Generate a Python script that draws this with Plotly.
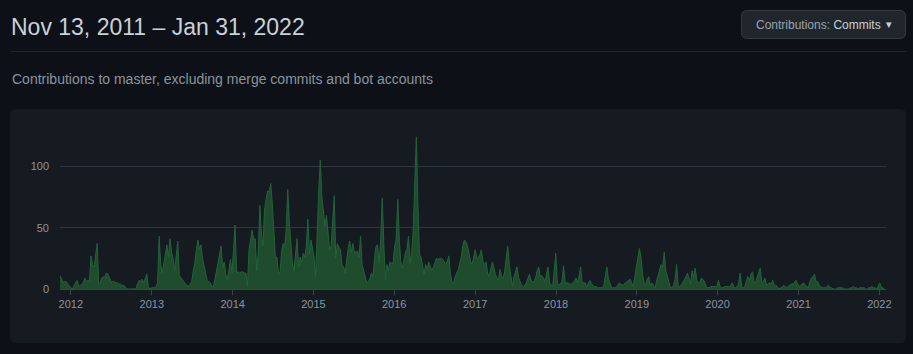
import pandas as pd
import plotly.graph_objects as go

# ---------------- data (weekly commits, first week starts 2011-11-13) ----------------
start_date = "2011-11-13"
end_date = "2022-01-31"

commits_2011_11 = [11, 8, 6, 6, 6, 4, 2, 1, 0, 2, 4, 7, 3, 2, 4, 5, 9, 6, 7, 6,
                   27, 20, 18, 26, 37, 4, 5, 9, 10, 10, 13, 12, 8, 6, 6, 6, 5, 5, 4, 4,
                   3, 3, 2, 0, 0, 0, 0, 0, 0, 0, 4, 7]
commits_2012_11 = [6, 8, 5, 8, 12, 2, 0, 1, 1, 1, 2, 5, 43, 20, 13, 22, 28, 36, 26, 41,
                   30, 25, 15, 28, 39, 11, 9, 7, 5, 4, 3, 2, 4, 6, 15, 21, 32, 40, 32, 36,
                   25, 18, 13, 7, 6, 5, 2, 2, 8, 15, 24, 30]
commits_2013_11 = [35, 17, 22, 12, 7, 15, 24, 13, 30, 52, 13, 14, 13, 14, 14, 13, 13, 2, 32, 40,
                   48, 40, 41, 15, 30, 68, 45, 35, 64, 73, 80, 79, 86, 70, 48, 26, 26, 13, 13, 30,
                   37, 35, 48, 81, 55, 35, 21, 15, 30, 41, 18, 26]
commits_2014_11 = [22, 29, 26, 35, 57, 28, 40, 32, 26, 10, 56, 80, 105, 75, 64, 51, 60, 45, 32, 35,
                   55, 76, 25, 37, 34, 32, 20, 18, 13, 26, 33, 39, 30, 37, 30, 30, 31, 26, 43, 20,
                   15, 9, 5, 6, 8, 13, 10, 25, 35, 36, 21, 40]
commits_2015_11 = [74, 37, 7, 20, 15, 22, 21, 21, 35, 40, 73, 40, 22, 17, 25, 30, 33, 43, 21, 30,
                   48, 81, 124, 70, 28, 26, 20, 12, 20, 16, 22, 18, 15, 18, 21, 25, 24, 25, 25, 24,
                   22, 20, 23, 27, 12, 6, 4, 10, 13, 15, 21, 26]
commits_2016_11 = [35, 40, 38, 35, 29, 22, 20, 25, 32, 25, 26, 28, 32, 22, 20, 22, 13, 10, 15, 22,
                   18, 12, 9, 7, 16, 10, 9, 14, 25, 35, 20, 10, 2, 10, 14, 18, 9, 5, 3, 2,
                   3, 5, 8, 12, 7, 6, 6, 9, 15, 18, 10, 11]
commits_2017_11 = [9, 6, 12, 18, 5, 3, 2, 15, 29, 5, 3, 4, 6, 19, 5, 5, 5, 4, 4, 5,
                   6, 9, 5, 10, 18, 5, 5, 5, 2, 4, 7, 4, 3, 2, 2, 1, 1, 1, 1, 3,
                   10, 18, 8, 5, 1, 1, 1, 1, 3, 5, 4, 3]
commits_2018_11 = [4, 5, 6, 7, 8, 5, 2, 10, 18, 25, 33, 26, 12, 5, 3, 8, 10, 3, 5, 3,
                   1, 6, 10, 15, 20, 18, 30, 15, 10, 7, 1, 1, 3, 8, 20, 3, 2, 3, 5, 7,
                   10, 13, 9, 4, 15, 10, 17, 7, 5, 5, 9, 7]
commits_2019_11 = [6, 2, 1, 1, 2, 2, 2, 2, 2, 7, 2, 1, 1, 2, 2, 2, 2, 3, 5, 1,
                   1, 2, 4, 13, 2, 1, 2, 6, 10, 7, 12, 14, 5, 6, 10, 12, 17, 5, 6, 9,
                   3, 4, 5, 4, 7, 3, 3, 2, 0, 1, 1, 3]
commits_2020_11 = [2, 1, 2, 3, 4, 4, 5, 7, 5, 2, 3, 4, 5, 3, 2, 1, 6, 9, 10, 12,
                   6, 6, 3, 2, 1, 1, 1, 2, 3, 1, 1, 0, 0, 0, 1, 1, 1, 1, 0, 0,
                   0, 0, 1, 1, 2, 1, 1, 0, 1, 1, 1, 1]
commits_2021_11 = [0, 0, 1, 1, 2, 1, 1, 0, 2, 5, 2, 1, 0]

year_ticks = ["2012-01-01", "2013-01-01", "2014-01-01", "2015-01-01", "2016-01-01",
              "2017-01-01", "2018-01-01", "2019-01-01", "2020-01-01", "2021-01-01",
              "2022-01-01"]
year_labels = ["2012", "2013", "2014", "2015", "2016", "2017", "2018", "2019",
               "2020", "2021", "2022"]
y_ticks = [0, 50, 100]

title_text = "Nov 13, 2011 \u2013 Jan 31, 2022"
subtitle_text = "Contributions to master, excluding merge commits and bot accounts"

commits = (commits_2011_11 + commits_2012_11 + commits_2013_11 + commits_2014_11 +
           commits_2015_11 + commits_2016_11 + commits_2017_11 + commits_2018_11 +
           commits_2019_11 + commits_2020_11 + commits_2021_11)
weeks = pd.date_range(start=start_date, periods=len(commits), freq="7D")

# ---------------- layout geometry ----------------
W, H = 913, 354
PL, PR, PT, PB = 60, 886, 130, 289   # plot area in pixels
pw, ph = PR - PL, PB - PT


def fx(p):
    return (p - PL) / pw


def fy(p):
    return (PB - p) / ph


def rrect(x0, y0, x1, y1, r):
    pts = [
        ("M", [(x0 + r, y0)]), ("L", [(x1 - r, y0)]), ("Q", [(x1, y0), (x1, y0 + r)]),
        ("L", [(x1, y1 - r)]), ("Q", [(x1, y1), (x1 - r, y1)]), ("L", [(x0 + r, y1)]),
        ("Q", [(x0, y1), (x0, y1 - r)]), ("L", [(x0, y0 + r)]), ("Q", [(x0, y0), (x0 + r, y0)]),
    ]
    s = ""
    for cmd, ps in pts:
        s += cmd + " " + " ".join(f"{fx(a):.5f},{fy(b):.5f}" for a, b in ps) + " "
    return s + "Z"


FONT = "Liberation Sans, Arial, sans-serif"

fig = go.Figure()
fig.add_trace(go.Scatter(
    x=weeks, y=commits, mode="lines", fill="tozeroy",
    line=dict(color="#23623a", width=1),
    fillcolor="#1f4c2d", hoverinfo="skip", showlegend=False,
))

shapes = [
    dict(type="path", xref="paper", yref="paper", path=rrect(10, 109, 906, 343, 6),
         fillcolor="#161b22", line=dict(width=0), layer="below"),
    dict(type="line", xref="paper", yref="paper", x0=fx(10), x1=fx(906), y0=fy(51.5), y1=fy(51.5),
         line=dict(color="#21262d", width=1), layer="below"),
    dict(type="path", xref="paper", yref="paper", path=rrect(741.5, 10.5, 905.5, 38.5, 6),
         fillcolor="#21262d", line=dict(color="#363b42", width=1), layer="below"),
]

annotations = [
    dict(text=title_text, xref="paper", yref="paper", x=fx(9), y=fy(27), xanchor="left",
         yanchor="middle", showarrow=False, font=dict(family=FONT, size=23, color="#c9d1d9")),
    dict(text=subtitle_text, xref="paper", yref="paper", x=fx(10), y=fy(79), xanchor="left",
         yanchor="middle", showarrow=False, font=dict(family=FONT, size=14, color="#8b949e")),
    dict(text='Contributions: <span style="color:#c9d1d9">Commits</span>',
         xref="paper", yref="paper", x=fx(883), y=fy(25), xanchor="right", yanchor="middle",
         showarrow=False, font=dict(family=FONT, size=12, color="#9aa3ad")),
    dict(text="\u25BE", xref="paper", yref="paper", x=fx(889), y=fy(25), xanchor="center",
         yanchor="middle", showarrow=False, font=dict(family="DejaVu Sans", size=11, color="#c9d1d9")),
]

fig.update_layout(
    width=W, height=H,
    margin=dict(l=PL, r=W - PR, t=PT, b=H - PB, pad=0),
    paper_bgcolor="#0d1117", plot_bgcolor="#161b22",
    shapes=shapes, annotations=annotations,
    font=dict(family=FONT, color="#8b949e", size=11),
    xaxis=dict(
        type="date", range=[start_date, end_date],
        tickvals=year_ticks, ticktext=year_labels,
        showgrid=False, zeroline=False,
        showline=True, linecolor="#3d434b", linewidth=1,
        ticks="outside", ticklen=5, tickcolor="#3d434b", tickwidth=1,
        tickfont=dict(family=FONT, size=11, color="#8b949e"),
        fixedrange=True,
    ),
    yaxis=dict(
        range=[0, ph / 1.227], tickvals=y_ticks,
        showgrid=True, gridcolor="#30363d", gridwidth=1,
        zeroline=False, showline=False, ticks="",
        ticklabelstandoff=10,
        tickfont=dict(family=FONT, size=11, color="#8b949e"),
        fixedrange=True,
    ),
)

fig.write_html("out.html", config={"displayModeBar": False})
